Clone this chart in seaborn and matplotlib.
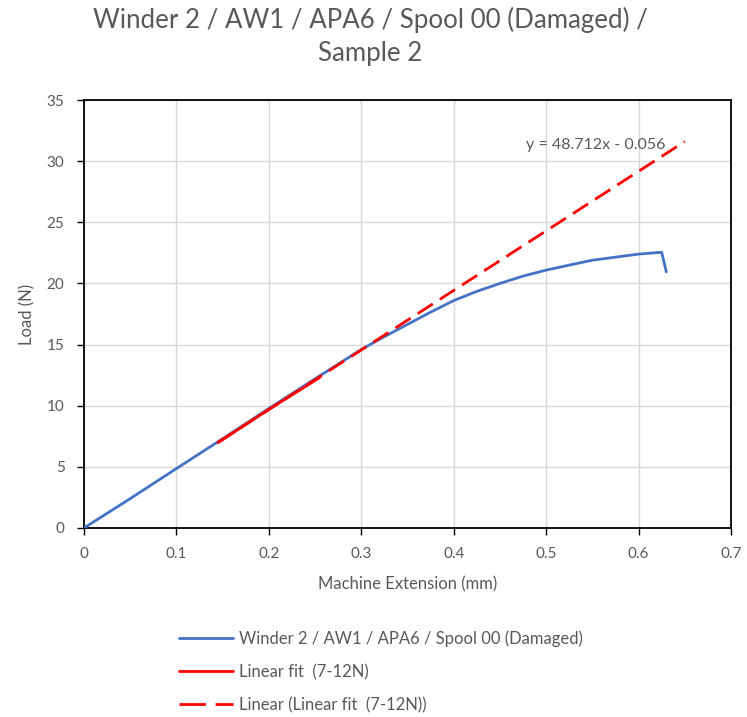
import matplotlib
matplotlib.use("Agg")
import matplotlib.pyplot as plt
import seaborn as sns
import pandas as pd

# Data
ext_mm = [0, 0.05, 0.1, 0.15, 0.2, 0.25, 0.3, 0.325, 0.35, 0.375, 0.4, 0.425, 0.45,
          0.475, 0.5, 0.525, 0.55, 0.575, 0.6, 0.625, 0.63]
load_n = [0, 2.4, 4.86, 7.3, 9.77, 12.2, 14.6, 15.65, 16.65, 17.65, 18.6, 19.35, 20.0,
          20.6, 21.09, 21.5, 21.9, 22.15, 22.4, 22.55, 20.95]
fit_x = [0.145, 0.2, 0.255]
fit_y = [6.98, 9.7, 12.3]
trend_x = [0.145, 0.65]
slope, intercept = 48.712, -0.056
x_ticks = [0, 0.1, 0.2, 0.3, 0.4, 0.5, 0.6, 0.7]
y_ticks = [0, 5, 10, 15, 20, 25, 30, 35]

series_name = "Winder 2 / AW1 / APA6 / Spool 00 (Damaged)"
fit_name = "Linear fit  (7-12N)"
trend_name = "Linear (Linear fit  (7-12N))"

sns.set_theme(style="whitegrid")
plt.rcParams["font.family"] = ["Lato", "DejaVu Sans"]

fig = plt.figure(figsize=(7.47, 7.17), dpi=100)
ax = fig.add_axes([0.1124, 0.2636, 0.8662, 0.5969])

grey = "#595959"
blue = "#4472C4"
red = "#FF0000"
dash = [6.5, 3]

df_main = pd.DataFrame({"x": ext_mm, "y": load_n})
df_fit = pd.DataFrame({"x": fit_x, "y": fit_y})
trend_y = [slope * v + intercept for v in trend_x]
df_trend = pd.DataFrame({"x": trend_x, "y": trend_y})

sns.lineplot(data=df_main, x="x", y="y", ax=ax, color=blue, lw=2.0, sort=False,
             label=series_name, zorder=3)
sns.lineplot(data=df_fit, x="x", y="y", ax=ax, color=red, lw=2.0, sort=False,
             label=fit_name, zorder=4)
sns.lineplot(data=df_trend, x="x", y="y", ax=ax, color=red, lw=2.0, sort=False,
             label=trend_name, zorder=5)
ax.lines[-1].set_dashes(dash)

ax.set_xlim(0, 0.7)
ax.set_ylim(0, 35)
ax.set_xticks(x_ticks)
ax.set_yticks(y_ticks)
ax.set_xticklabels([f"{v:g}" for v in x_ticks])
ax.set_yticklabels([f"{v:g}" for v in y_ticks])
ax.tick_params(axis="both", which="both", labelsize=11, colors="black", labelcolor=grey,
               direction="out", length=5, width=1, left=True, bottom=True)
ax.tick_params(axis="x", pad=9)
ax.tick_params(axis="y", pad=9)
ax.grid(True, color="#d9d9d9", lw=1)
for s in ax.spines.values():
    s.set_color("black")
    s.set_linewidth(1.3)
    s.set_visible(True)

ax.set_xlabel("Machine Extension (mm)", fontsize=12, color=grey, labelpad=11)
ax.set_ylabel("Load (N)", fontsize=12, color=grey, labelpad=8)

ax.text(0.629, 31.35, f"y = {slope}x - {abs(intercept):.3f}", ha="right", va="center",
        fontsize=11.5, color=grey)

fig.text(0.4953, 0.972, "Winder 2 / AW1 / APA6 / Spool 00 (Damaged) /", ha="center",
         va="center", fontsize=18.6, color=grey)
fig.text(0.4953, 0.925, "Sample 2", ha="center", va="center", fontsize=18.6, color=grey)

ax.get_legend().remove()
handles, labels = ax.get_legend_handles_labels()
leg = fig.legend(handles, labels, loc="upper left", bbox_to_anchor=(0.231, 0.130),
                 frameon=False, fontsize=12, handlelength=3.2, handletextpad=0.4,
                 labelspacing=1.02, borderaxespad=0)
leg.get_lines()[2].set_dashes([9.5, 3.5])
for t in leg.get_texts():
    t.set_color(grey)

fig.savefig("out.png", dpi=100, facecolor="white")
